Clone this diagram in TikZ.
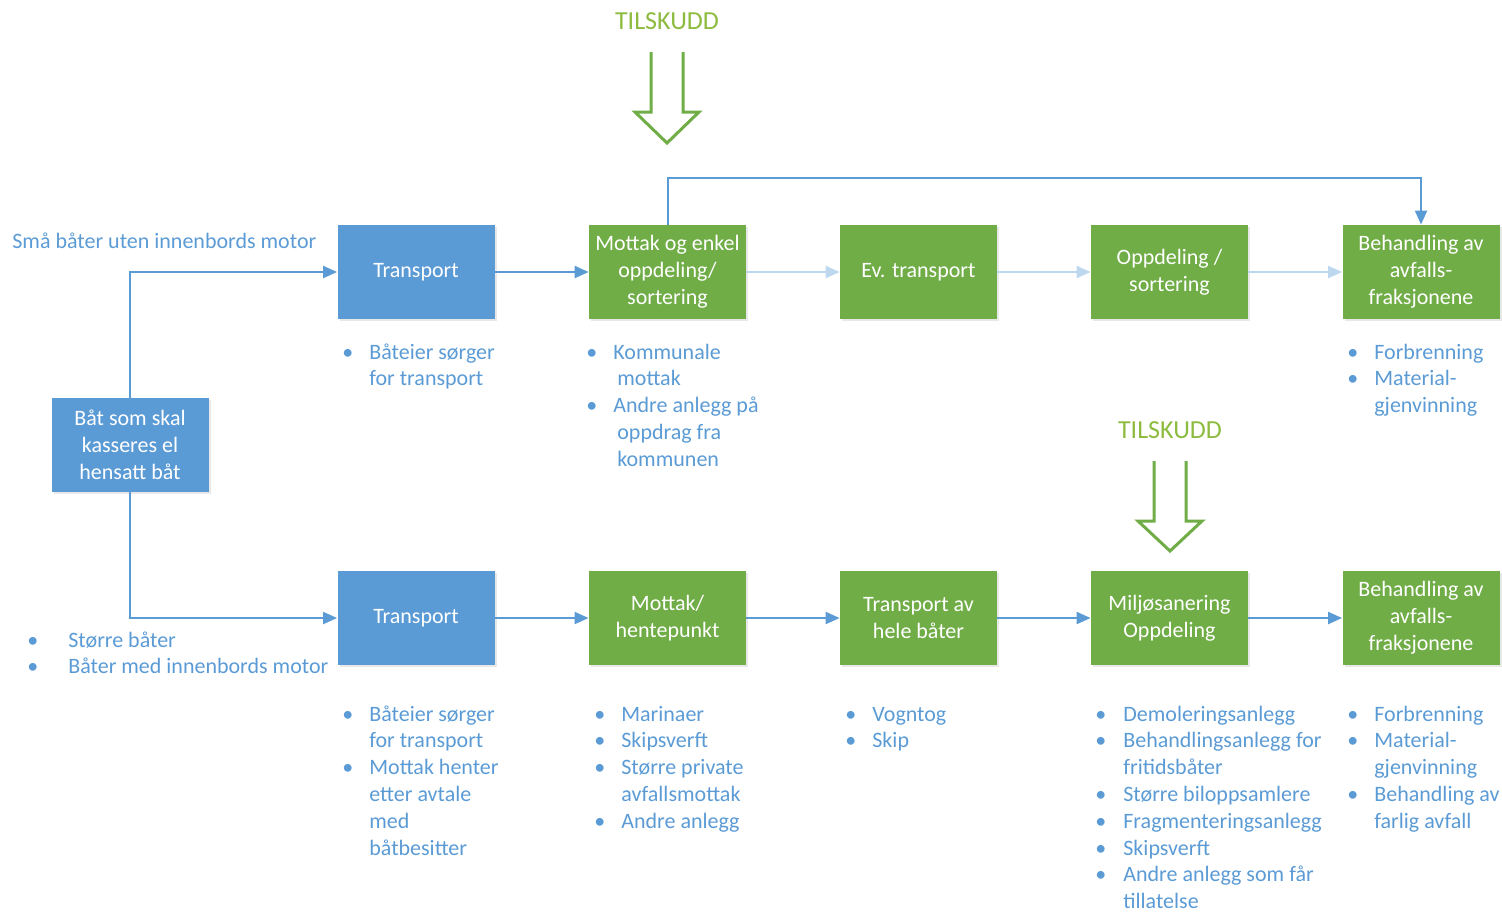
\documentclass[tikz,border=0pt]{standalone}
\usepackage{fontspec}
\setmainfont{Carlito}
\usetikzlibrary{arrows.meta,shadows}

\definecolor{boksblaa}{HTML}{5B9BD5}
\definecolor{boksgronn}{HTML}{70AD47}
\definecolor{lyseblaa}{HTML}{BDD7EE}
\definecolor{tilgronn}{HTML}{8DBB3F}

\newcommand{\punkter}[2][8pt]{\begin{tabular}[t]{@{}l@{\hspace{#1}}l@{}}#2\end{tabular}}

\tikzset{
  boks/.style={minimum width=78.5pt, minimum height=47pt, text=white, align=center, inner sep=1pt,
    drop shadow={opacity=0.18, shadow xshift=1pt, shadow yshift=-1.2pt}},
  blaaboks/.style={boks, fill=boksblaa},
  gronnboks/.style={boks, fill=boksgronn},
  pil/.style={boksblaa, line width=1pt, -{Triangle[length=7pt,width=6pt]}},
  lyspil/.style={pil, lyseblaa},
  liste/.style={anchor=base west, inner sep=0pt, text=boksblaa},
  tilskudd/.style={text=tilgronn, anchor=base, inner sep=0pt, font=\fontsize{13}{15}\selectfont},
  hul/.style={draw=boksgronn, line width=1.5pt, line join=miter}
}

\begin{document}
\begin{tikzpicture}[x=0.5pt, y=-0.5pt, font=\fontsize{11}{13.4}\selectfont]
		\useasboundingbox (0,0) rectangle (1502,912);
		% boks til venstre
		\node[blaaboks] (bat) at (130,445) {Båt som skal\\kasseres el\\hensatt båt};
		% øverste rad
		\node[blaaboks] (trA) at (416,272) {Transport};
		\node[gronnboks] (moA) at (667.5,272) {Mottak og enkel\\oppdeling/\\sortering};
		\node[gronnboks] (evA) at (918.5,272) {Ev. transport};
		\node[gronnboks] (opA) at (1169.5,272) {Oppdeling /\\sortering};
		\node[gronnboks] (beA) at (1421,272) {Behandling av\\avfalls-\\fraksjonene};
		% nederste rad
		\node[blaaboks] (trB) at (416,618) {Transport};
		\node[gronnboks] (moB) at (667.5,618) {Mottak/\\hentepunkt};
		\node[gronnboks] (taB) at (918.5,618) {Transport av\\hele båter};
		\node[gronnboks] (miB) at (1169.5,618) {Miljøsanering\\Oppdeling};
		\node[gronnboks] (beB) at (1421,618) {Behandling av\\avfalls-\\fraksjonene};

		% piler
		\draw[pil] (bat.north) |- (trA.west);
		\draw[pil] (bat.south) |- (trB.west);
		\draw[pil] (trA) -- (moA);
		\draw[lyspil] (moA) -- (evA);
		\draw[lyspil] (evA) -- (opA);
		\draw[lyspil] (opA) -- (beA);
		\draw[pil] (moA.north) -- ++(0,-47) -| (beA.north);
		\draw[pil] (trB) -- (moB);
		\draw[pil] (moB) -- (taB);
		\draw[pil] (taB) -- (miB);
		\draw[pil] (miB) -- (beB);

		% tilskudd
		\node[tilskudd] (tilA) at (667,29) {TILSKUDD};
		\draw[hul] (651,52) -- (651,112) -- (635,112) -- (667,143) -- (699,112) -- (683,112) -- (683,52);
		\node[tilskudd] (tilB) at (1170,438) {TILSKUDD};
		\draw[hul] (1154,461) -- (1154,521) -- (1138,521) -- (1170,551) -- (1202,521) -- (1186,521) -- (1186,461);

		% tekster
		\node[liste] (smaa) at (12,248) {Små båter uten innenbords motor};
		\node[liste] (store) at (27,647) {\punkter[15pt]{\textbullet & Større båter\\ \textbullet & Båter med innenbords motor}};
		\node[liste] (lTrA) at (342,359) {\punkter{\textbullet & Båteier sørger\\ & for transport}};
		\node[liste] (lMoA) at (586,359) {\punkter{\textbullet & Kommunale\\ & \hspace{2pt}mottak\\ \textbullet & Andre anlegg på\\ & \hspace{2pt}oppdrag fra\\ & \hspace{2pt}kommunen}};
		\node[liste] (lBeA) at (1347,359) {\punkter{\textbullet & Forbrenning\\ \textbullet & Material-\\ & gjenvinning}};
		\node[liste] (lTrB) at (342,721) {\punkter{\textbullet & Båteier sørger\\ & for transport\\ \textbullet & Mottak henter\\ & etter avtale\\ & med\\ & båtbesitter}};
		\node[liste] (lMoB) at (594,721) {\punkter{\textbullet & Marinaer\\ \textbullet & Skipsverft\\ \textbullet & Større private\\ & avfallsmottak\\ \textbullet & Andre anlegg}};
		\node[liste] (lTaB) at (845,721) {\punkter{\textbullet & Vogntog\\ \textbullet & Skip}};
		\node[liste] (lMiB) at (1095,721) {\punkter[8.5pt]{\textbullet & Demoleringsanlegg\\ \textbullet & Behandlingsanlegg for\\ & fritidsbåter\\ \textbullet & Større biloppsamlere\\ \textbullet & Fragmenteringsanlegg\\ \textbullet & Skipsverft\\ \textbullet & Andre anlegg som får\\ & tillatelse}};
		\node[liste] (lBeB) at (1347,721) {\punkter{\textbullet & Forbrenning\\ \textbullet & Material-\\ & gjenvinning\\ \textbullet & Behandling av\\ & farlig avfall}};
	\end{tikzpicture}
\end{document}
